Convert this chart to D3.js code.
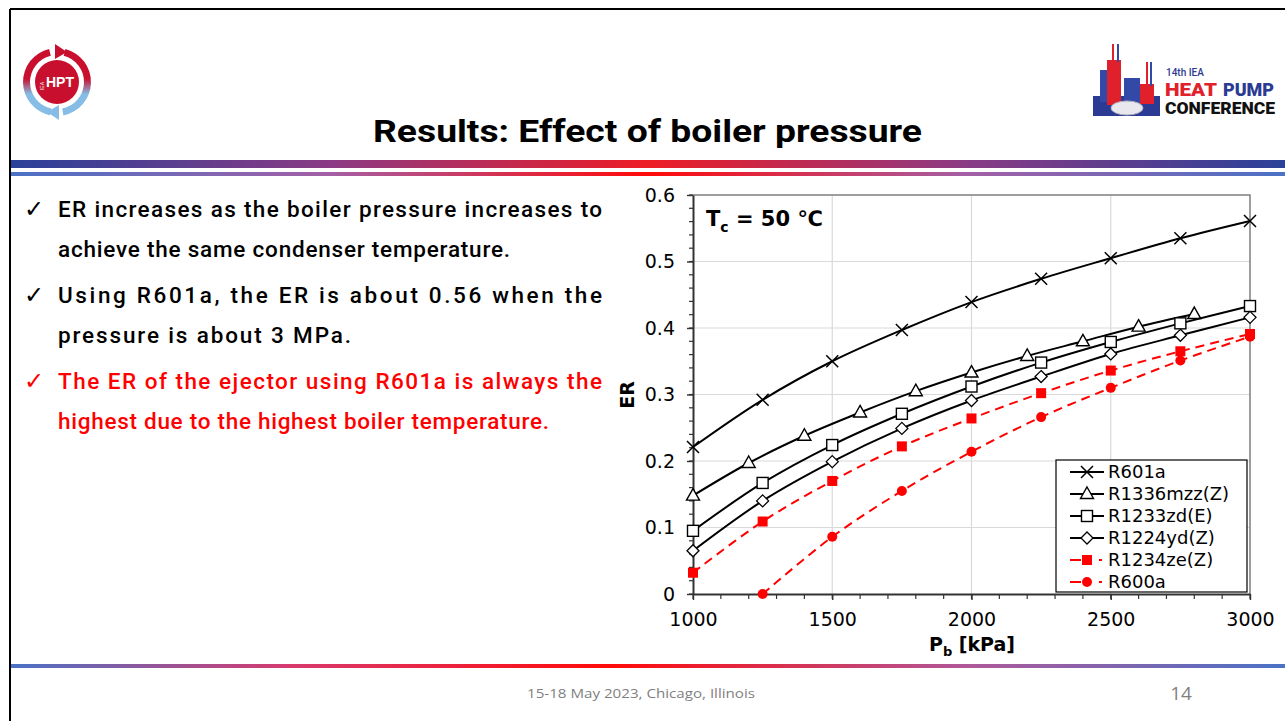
<!DOCTYPE html>
<html>
<head>
<meta charset="utf-8">
<script src="https://cdn.jsdelivr.net/npm/d3@7"></script>
<style>
  body { margin: 0; background: #fff; }
  svg { display: block; }
</style>
</head>
<body>
<svg id="slide"></svg>
<script>
// values
var pressures = [1000, 1250, 1500, 1750, 2000, 2250, 2500, 2750, 3000];
var pressuresR1336 = [1000, 1200, 1400, 1600, 1800, 2000, 2200, 2400, 2600, 2800];
var pressuresR600a = [1250, 1500, 1750, 2000, 2250, 2500, 2750, 3000];

var erR601a = [0.221, 0.292, 0.350, 0.397, 0.439, 0.474, 0.505, 0.535, 0.561];
var erR1336mzz = [0.148, 0.197, 0.238, 0.273, 0.305, 0.333, 0.358, 0.380, 0.402, 0.421];
var erR1233zd = [0.095, 0.167, 0.224, 0.271, 0.312, 0.348, 0.379, 0.407, 0.433];
var erR1224yd = [0.065, 0.140, 0.199, 0.249, 0.291, 0.327, 0.361, 0.389, 0.416];
var erR1234ze = [0.032, 0.109, 0.170, 0.222, 0.264, 0.302, 0.336, 0.365, 0.391];
var erR600a = [0.000, 0.086, 0.155, 0.214, 0.266, 0.310, 0.351, 0.387];

var xTicks = [1000, 1500, 2000, 2500, 3000];
var yTicks = [0, 0.1, 0.2, 0.3, 0.4, 0.5, 0.6];

var series = [
  {name: "R601a", x: pressures, y: erR601a, marker: "x", red: false},
  {name: "R1336mzz(Z)", x: pressuresR1336, y: erR1336mzz, marker: "tri", red: false},
  {name: "R1233zd(E)", x: pressures, y: erR1233zd, marker: "sq", red: false},
  {name: "R1224yd(Z)", x: pressures, y: erR1224yd, marker: "dia", red: false},
  {name: "R1234ze(Z)", x: pressures, y: erR1234ze, marker: "sqf", red: true},
  {name: "R600a", x: pressuresR600a, y: erR600a, marker: "circ", red: true}
];

var bullets = [
  {lines: ["ER increases as the boiler pressure increases to", "achieve the same condenser temperature."], widths: [544, 452], color: "#000"},
  {lines: ["Using R601a, the ER is about 0.56 when the", "pressure is about 3 MPa."], widths: [544, 293], color: "#000"},
  {lines: ["The ER of the ejector using R601a is always the", "highest due to the highest boiler temperature."], widths: [544, 491], color: "#ff0000"}
];

function drawSlide() {
  var W = 1285, H = 721;
  var svg = d3.select("#slide").attr("width", W).attr("height", H);
  var defs = svg.append("defs");

  // slide frame
  svg.append("line").attr("x1", 10).attr("y1", 9).attr("x2", W).attr("y2", 9)
    .attr("stroke", "#000").attr("stroke-width", 2);
  svg.append("line").attr("x1", 10).attr("y1", 9).attr("x2", 10).attr("y2", H)
    .attr("stroke", "#000").attr("stroke-width", 2);

  // gradient bands
  function band(id, stops) {
    var g = defs.append("linearGradient").attr("id", id).attr("x1", 0).attr("x2", 1).attr("y1", 0).attr("y2", 0);
    stops.forEach(function (s) { g.append("stop").attr("offset", s[0]).attr("stop-color", s[1]); });
  }
  band("bandTop", [[0, "#2a4199"], [0.25, "#8a3a84"], [0.5, "#ee1c25"], [0.75, "#8a3a84"], [1, "#2a4199"]]);
  band("bandThin", [[0, "#4a72c6"], [0.25, "#a45fa6"], [0.5, "#ff0a0a"], [0.75, "#a45fa6"], [1, "#4a72c6"]]);
  band("bandBottom", [[0, "#4a72c6"], [0.22, "#d83a6e"], [0.47, "#ff0a0a"], [0.75, "#b0589a"], [1, "#4a72c6"]]);

  svg.append("rect").attr("x", 11).attr("y", 160).attr("width", W - 11).attr("height", 8).attr("fill", "url(#bandTop)");
  svg.append("rect").attr("x", 11).attr("y", 172).attr("width", W - 11).attr("height", 4).attr("fill", "url(#bandThin)");
  svg.append("rect").attr("x", 11).attr("y", 664).attr("width", W - 11).attr("height", 4).attr("fill", "url(#bandBottom)");

  // title
  svg.append("text").attr("x", 373).attr("y", 142)
    .attr("textLength", 549).attr("lengthAdjust", "spacingAndGlyphs")
    .style("font-family", "Roboto, sans-serif").style("font-weight", 700).style("font-size", "31px")
    .text("Results: Effect of boiler pressure");

  // left logo (IEA HPT)
  var logo = svg.append("g").attr("transform", "translate(57,82)");
  var ringGrad = defs.append("linearGradient").attr("id", "ringGrad").attr("x1", 0).attr("x2", 0).attr("y1", 0).attr("y2", 1);
  ringGrad.append("stop").attr("offset", 0.45).attr("stop-color", "#c8102e");
  ringGrad.append("stop").attr("offset", 0.68).attr("stop-color", "#86bde6");
  var ringArc = d3.arc().innerRadius(27).outerRadius(34);
  [[0.25, 2.95], [3.35, 6.05]].forEach(function (a) {
    logo.append("path").attr("d", ringArc({startAngle: a[0], endAngle: a[1]})).attr("fill", "url(#ringGrad)");
  });
  logo.append("path").attr("d", "M-2,-38 L10,-30 L-2,-23 Z").attr("fill", "#c8102e");
  logo.append("path").attr("d", "M2,38 L-10,30 L2,23 Z").attr("fill", "#86bde6");
  logo.append("circle").attr("r", 22).attr("fill", "#c8102e");
  logo.append("text").attr("x", 3).attr("y", 5).attr("text-anchor", "middle")
    .style("font-family", "Liberation Sans, sans-serif").style("font-weight", 700).style("font-size", "14px")
    .attr("fill", "#fff").text("HPT");
  logo.append("text").attr("transform", "translate(-13,4) rotate(-90)").attr("text-anchor", "middle")
    .style("font-family", "Liberation Sans, sans-serif").style("font-size", "5px").attr("fill", "#fff").text("IEA");

  // right logo (14th IEA Heat Pump Conference)
  var rl = svg.append("g");
  rl.append("rect").attr("x", 1093).attr("y", 96).attr("width", 67).attr("height", 20).attr("fill", "#2b3a92");
  rl.append("rect").attr("x", 1100).attr("y", 70).attr("width", 16).attr("height", 32).attr("fill", "#3349a8");
  rl.append("rect").attr("x", 1107).attr("y", 60).attr("width", 14).attr("height", 45).attr("fill", "#e0202a");
  rl.append("rect").attr("x", 1112).attr("y", 44).attr("width", 2).attr("height", 18).attr("fill", "#e0202a");
  rl.append("rect").attr("x", 1117).attr("y", 44).attr("width", 2).attr("height", 18).attr("fill", "#3349a8");
  rl.append("rect").attr("x", 1124).attr("y", 78).attr("width", 16).attr("height", 26).attr("fill", "#3349a8");
  rl.append("rect").attr("x", 1140).attr("y", 84).attr("width", 14).attr("height", 20).attr("fill", "#e0202a");
  rl.append("rect").attr("x", 1146).attr("y", 62).attr("width", 2).attr("height", 24).attr("fill", "#e0202a");
  rl.append("rect").attr("x", 1150).attr("y", 62).attr("width", 2).attr("height", 24).attr("fill", "#3349a8");
  rl.append("ellipse").attr("cx", 1127).attr("cy", 108).attr("rx", 16).attr("ry", 7).attr("fill", "#e8e8ee").attr("stroke", "#b0b0c0");
  rl.append("text").attr("x", 1166).attr("y", 76).style("font-family", "Roboto, sans-serif").style("font-weight", 500)
    .style("font-size", "10px").attr("fill", "#2b3a92").text("14th IEA");
  rl.append("text").attr("x", 1165).attr("y", 96).attr("textLength", 52).attr("lengthAdjust", "spacingAndGlyphs")
    .style("font-family", "Roboto, sans-serif").style("font-weight", 900).style("font-size", "19px")
    .attr("fill", "#e0202a").text("HEAT");
  rl.append("text").attr("x", 1223).attr("y", 96).attr("textLength", 51).attr("lengthAdjust", "spacingAndGlyphs")
    .style("font-family", "Roboto, sans-serif").style("font-weight", 900).style("font-size", "19px")
    .attr("fill", "#2b3a92").text("PUMP");
  rl.append("text").attr("x", 1165).attr("y", 114).attr("textLength", 110).attr("lengthAdjust", "spacingAndGlyphs")
    .style("font-family", "Roboto, sans-serif").style("font-weight", 900).style("font-size", "16px")
    .attr("fill", "#111").text("CONFERENCE");

  // bullet text
  var lineY = 217;
  bullets.forEach(function (b) {
    svg.append("text").attr("x", 24).attr("y", lineY).attr("fill", b.color)
      .style("font-family", "DejaVu Sans, sans-serif").style("font-size", "24px").text("\u2713");
    b.lines.forEach(function (ln, i) {
      svg.append("text").attr("x", 58).attr("y", lineY + i * 40)
        .attr("textLength", b.widths[i]).attr("lengthAdjust", "spacing")
        .attr("fill", b.color)
        .style("font-family", "Roboto, sans-serif").style("font-weight", 500).style("font-size", "22.5px")
        .text(ln);
    });
    lineY += 86;
  });

  // footer
  svg.append("text").attr("x", 527).attr("y", 698).attr("textLength", 228).attr("lengthAdjust", "spacingAndGlyphs")
    .style("font-family", "Open Sans, sans-serif").style("font-size", "13px").attr("fill", "#7f7f7f")
    .text("15-18 May 2023, Chicago, Illinois");
  svg.append("text").attr("x", 1181).attr("y", 700).attr("text-anchor", "middle")
    .style("font-family", "Open Sans, sans-serif").style("font-size", "19px").attr("fill", "#7f7f7f").text("14");

  // ---- chart ----
  var pLeft = 693, pRight = 1250, pTop = 195, pBottom = 594;
  var x = d3.scaleLinear().domain([1000, 3000]).range([pLeft, pRight]);
  var y = d3.scaleLinear().domain([0, 0.6]).range([pBottom, pTop]);
  var chart = svg.append("g");

  // gridlines
  chart.selectAll(".gx").data(xTicks.slice(1, -1)).enter().append("line")
    .attr("x1", function (d) { return x(d); }).attr("x2", function (d) { return x(d); })
    .attr("y1", pTop).attr("y2", pBottom).attr("stroke", "#d9d9d9").attr("stroke-width", 1.2);
  chart.selectAll(".gy").data(yTicks.slice(1, -1)).enter().append("line")
    .attr("x1", pLeft).attr("x2", pRight)
    .attr("y1", function (d) { return y(d); }).attr("y2", function (d) { return y(d); })
    .attr("stroke", "#d9d9d9").attr("stroke-width", 1.2);

  // frame top / right
  chart.append("path").attr("d", "M" + pLeft + "," + pTop + "H" + pRight + "V" + pBottom)
    .attr("fill", "none").attr("stroke", "#7f7f7f").attr("stroke-width", 1.5);

  // minor ticks
  var minorX = d3.range(1000, 3001, 100);
  var minorY = d3.range(0, 0.601, 0.02);
  chart.selectAll(".mx").data(minorX).enter().append("line")
    .attr("x1", function (d) { return x(d); }).attr("x2", function (d) { return x(d); })
    .attr("y1", pBottom).attr("y2", pBottom + 5).attr("stroke", "#333").attr("stroke-width", 1.2);
  chart.selectAll(".my").data(minorY).enter().append("line")
    .attr("x1", pLeft - 4).attr("x2", pLeft)
    .attr("y1", function (d) { return y(d); }).attr("y2", function (d) { return y(d); })
    .attr("stroke", "#333").attr("stroke-width", 1.2);

  var xAxis = chart.append("g").attr("transform", "translate(0," + pBottom + ")")
    .call(d3.axisBottom(x).tickValues(xTicks).tickSize(6).tickSizeOuter(0).tickPadding(13).tickFormat(d3.format("d")));
  var yAxis = chart.append("g").attr("transform", "translate(" + pLeft + ",0)")
    .call(d3.axisLeft(y).tickValues(yTicks).tickSize(6).tickSizeOuter(0).tickPadding(12)
      .tickFormat(function (d) { return d === 0 ? "0" : d3.format(".1f")(d); }));
  [xAxis, yAxis].forEach(function (a) {
    a.select(".domain").attr("stroke", "#333").attr("stroke-width", 2);
    a.selectAll(".tick line").attr("stroke", "#333").attr("stroke-width", 1.4);
    a.selectAll("text").style("font-family", "DejaVu Sans, sans-serif").style("font-size", "19px").attr("fill", "#000");
  });

  // axis titles
  svg.append("text").attr("transform", "translate(634,395) rotate(-90)").attr("text-anchor", "middle")
    .style("font-family", "DejaVu Sans, sans-serif").style("font-weight", 700).style("font-size", "19px").text("ER");
  var xt = svg.append("text").attr("x", 972).attr("y", 651).attr("text-anchor", "middle")
    .style("font-family", "DejaVu Sans, sans-serif").style("font-weight", 700).style("font-size", "19px");
  xt.append("tspan").text("P");
  xt.append("tspan").attr("dy", 5).style("font-size", "13px").text("b");
  xt.append("tspan").attr("dy", -5).text(" [kPa]");

  // annotation
  var ann = svg.append("text").attr("x", 706).attr("y", 226)
    .style("font-family", "DejaVu Sans, sans-serif").style("font-weight", 700).style("font-size", "21px");
  ann.append("tspan").text("T");
  ann.append("tspan").attr("dy", 6).style("font-size", "14px").text("c");
  ann.append("tspan").attr("dy", -6).text(" = 50 \u2103");

  // markers
  function drawMarker(g, type, cx, cy) {
    if (type === "x") {
      g.append("path").attr("d", "M" + (cx - 6) + "," + (cy - 6) + "L" + (cx + 6) + "," + (cy + 6) +
        "M" + (cx - 6) + "," + (cy + 6) + "L" + (cx + 6) + "," + (cy - 6))
        .attr("stroke", "#000").attr("stroke-width", 1.5);
    } else if (type === "tri") {
      g.append("path").attr("d", "M" + cx + "," + (cy - 7) + "L" + (cx + 6.5) + "," + (cy + 4.5) + "L" + (cx - 6.5) + "," + (cy + 4.5) + "Z")
        .attr("fill", "#fff").attr("stroke", "#000").attr("stroke-width", 1.4);
    } else if (type === "sq") {
      g.append("rect").attr("x", cx - 5.5).attr("y", cy - 5.5).attr("width", 11).attr("height", 11)
        .attr("fill", "#fff").attr("stroke", "#000").attr("stroke-width", 1.4);
    } else if (type === "dia") {
      g.append("path").attr("d", "M" + cx + "," + (cy - 6) + "L" + (cx + 6) + "," + cy + "L" + cx + "," + (cy + 6) + "L" + (cx - 6) + "," + cy + "Z")
        .attr("fill", "#fff").attr("stroke", "#000").attr("stroke-width", 1.3);
    } else if (type === "sqf") {
      g.append("rect").attr("x", cx - 5).attr("y", cy - 5).attr("width", 10).attr("height", 10).attr("fill", "#ff0000");
    } else if (type === "circ") {
      g.append("circle").attr("cx", cx).attr("cy", cy).attr("r", 5).attr("fill", "#ff0000");
    }
  }

  var line = d3.line()
    .x(function (d) { return x(d[0]); })
    .y(function (d) { return y(d[1]); })
    .curve(d3.curveCatmullRom.alpha(0.5));

  series.forEach(function (s) {
    var pts = s.x.map(function (v, i) { return [v, s.y[i]]; });
    var g = chart.append("g");
    g.append("path").datum(pts).attr("d", line).attr("fill", "none")
      .attr("stroke", s.red ? "#ff0000" : "#000").attr("stroke-width", 2)
      .attr("stroke-dasharray", s.red ? "9,6" : null);
    pts.forEach(function (p) { drawMarker(g, s.marker, x(p[0]), y(p[1])); });
  });

  // legend
  var lg = svg.append("g");
  lg.append("rect").attr("x", 1056).attr("y", 460).attr("width", 191).attr("height", 132)
    .attr("fill", "#fff").attr("stroke", "#000").attr("stroke-width", 1.2);
  series.forEach(function (s, i) {
    var ly = 472 + i * 22;
    lg.append("line").attr("x1", 1070).attr("x2", 1104).attr("y1", ly).attr("y2", ly)
      .attr("stroke", s.red ? "#ff0000" : "#000").attr("stroke-width", 2)
      .attr("stroke-dasharray", s.red ? "11,18,3" : null);
    drawMarker(lg, s.marker, 1087, ly);
    lg.append("text").attr("x", 1108).attr("y", ly).attr("dy", "0.35em")
      .style("font-family", "DejaVu Sans, sans-serif").style("font-size", "18px").text(s.name);
  });
}

drawSlide();
</script>
</body>
</html>
